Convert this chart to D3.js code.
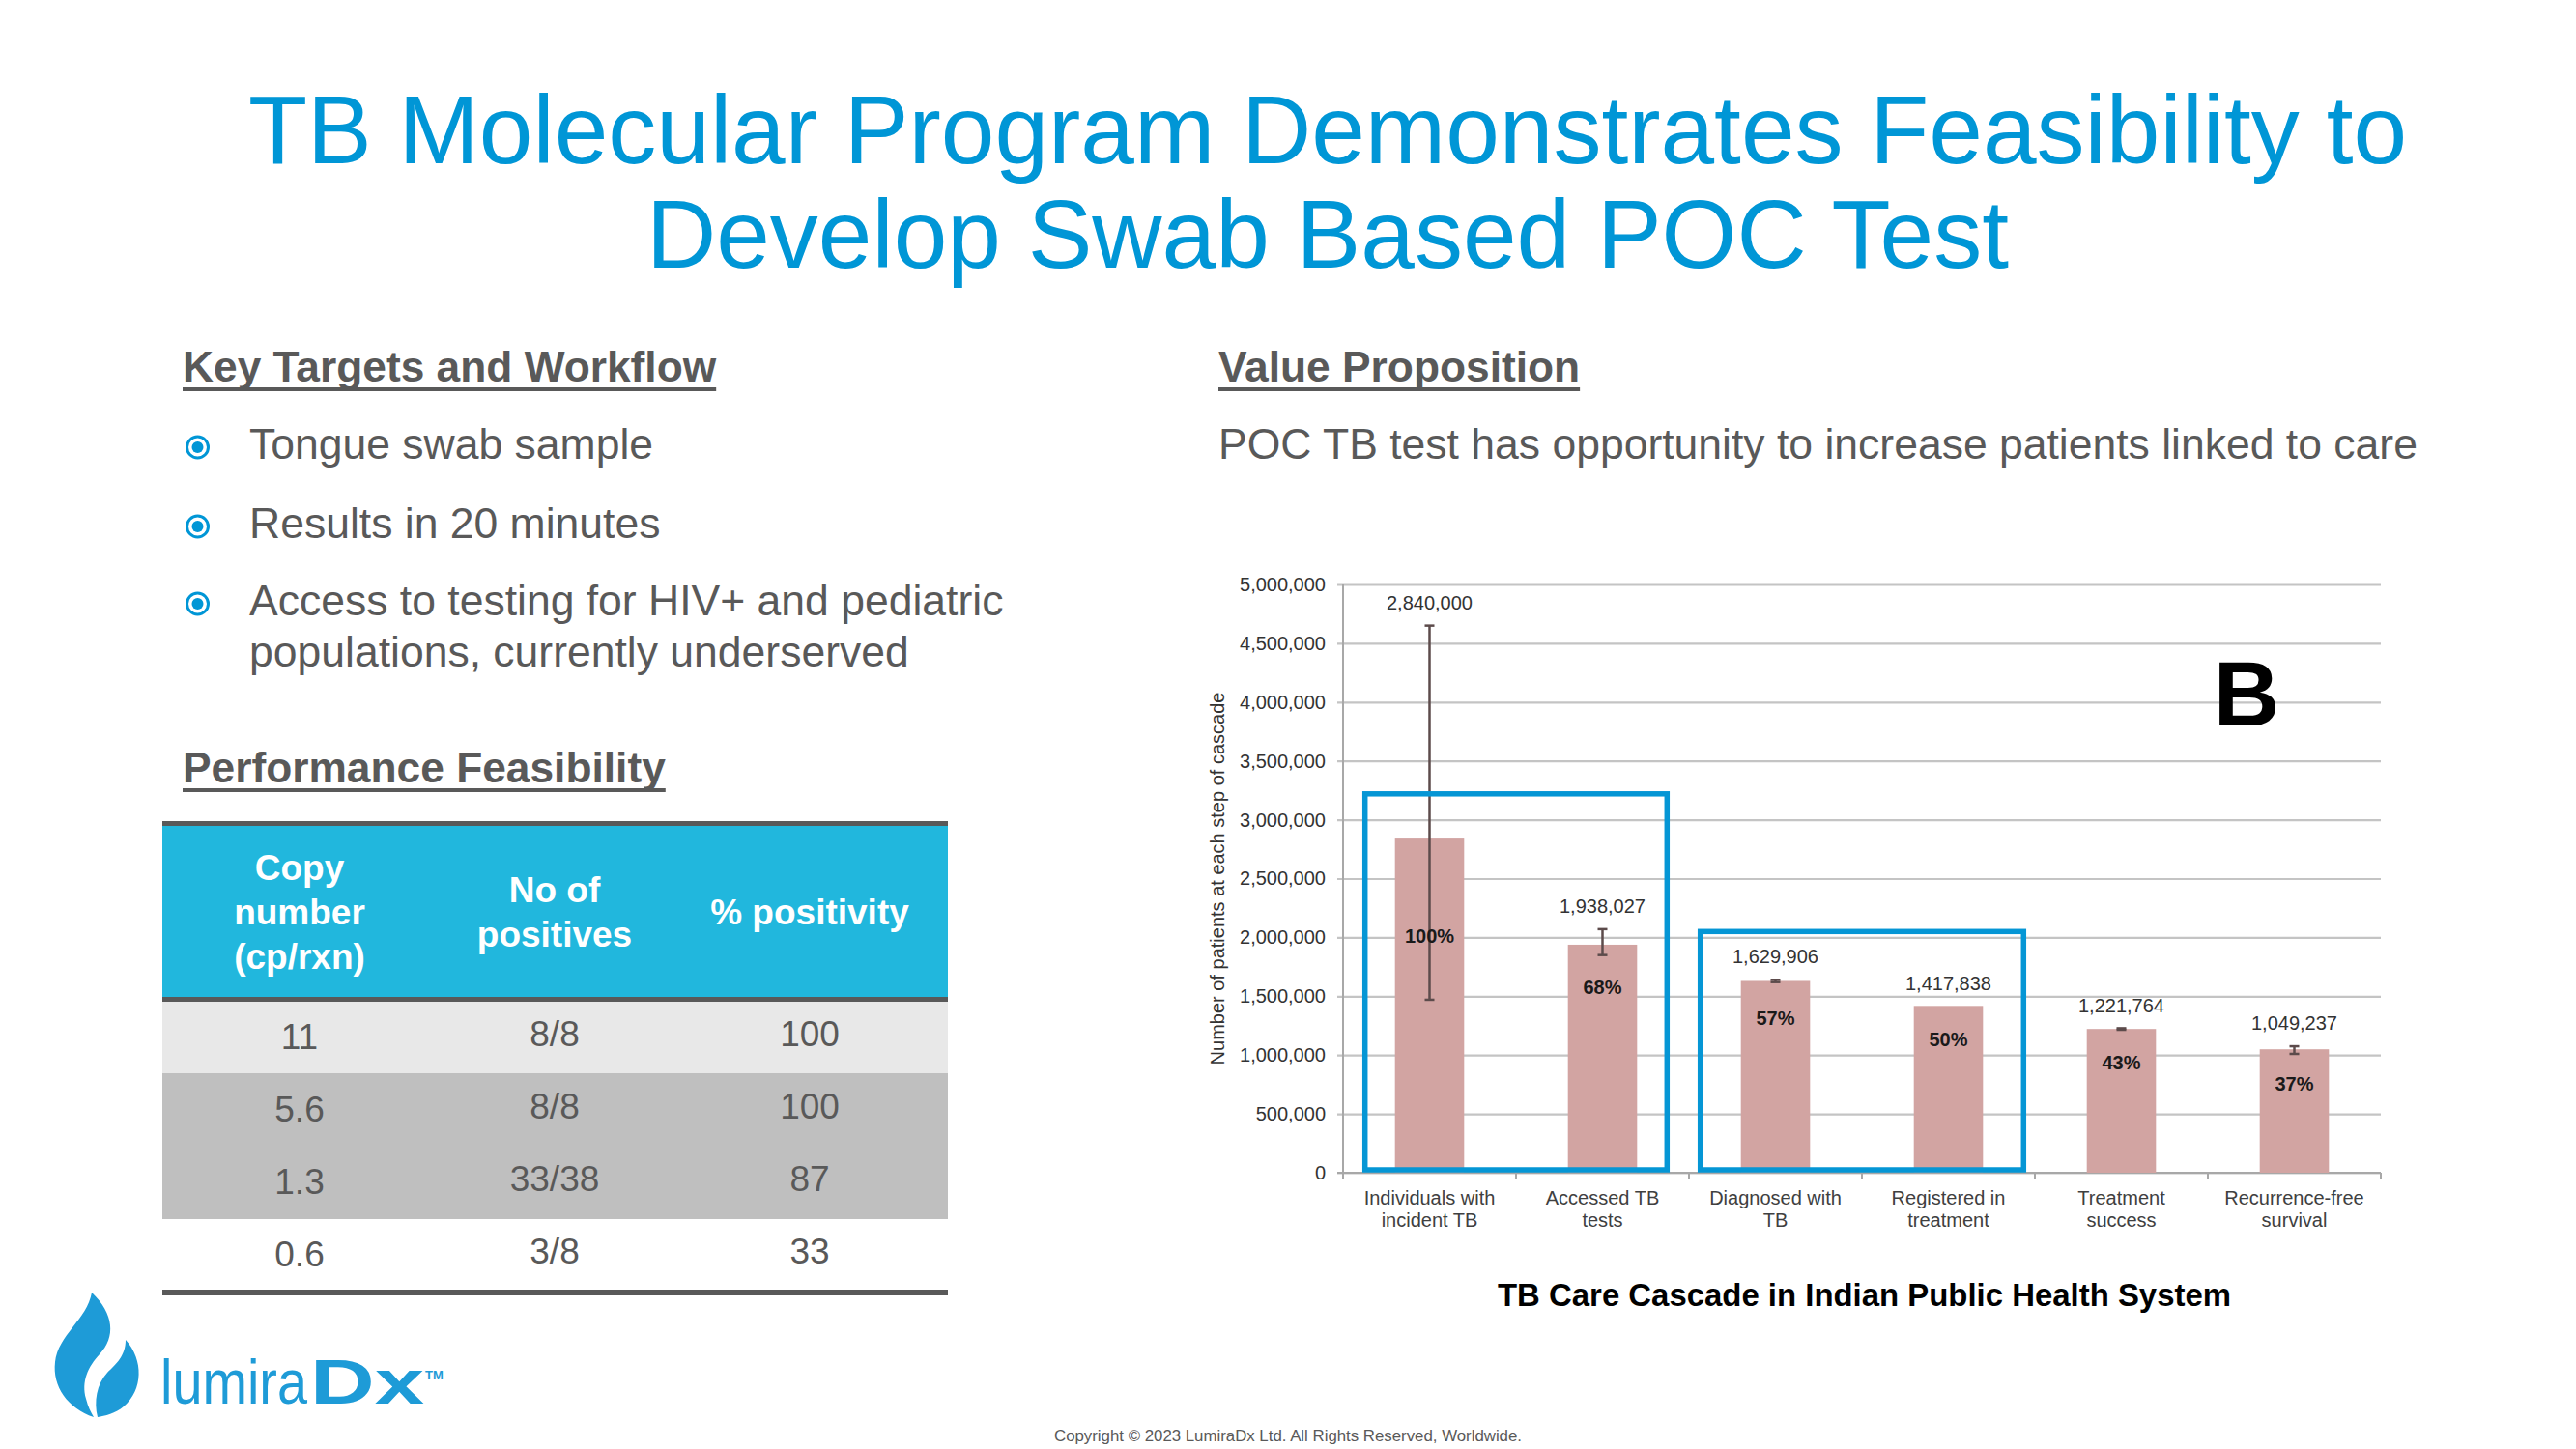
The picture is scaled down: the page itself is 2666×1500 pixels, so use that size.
<!DOCTYPE html>
<html>
<head>
<meta charset="utf-8">
<script src="https://cdn.jsdelivr.net/npm/d3@7"></script>
<style>
  html, body { margin: 0; padding: 0; background: #ffffff; }
  svg { display: block; }
  text { font-family: "Liberation Sans", Arial, sans-serif; }
</style>
</head>
<body>
<div id="slide"></div>
<script>
// ---------------- DATA ----------------
const titleLines = ["TB Molecular Program Demonstrates Feasibility to", "Develop Swab Based POC Test"];
const leftHeader = "Key Targets and Workflow";
const bullets = [["Tongue swab sample"], ["Results in 20 minutes"], ["Access to testing for HIV+ and pediatric", "populations, currently underserved"]];
const perfHeader = "Performance Feasibility";
const tableHeaders = [["Copy", "number", "(cp/rxn)"], ["No of", "positives"], ["% positivity"]];
const copyNumber = ["11", "5.6", "1.3", "0.6"];
const positives = ["8/8", "8/8", "33/38", "3/8"];
const positivity = ["100", "100", "87", "33"];
const rightHeader = "Value Proposition";
const rightText = "POC TB test has opportunity to increase patients linked to care";

const categories = [["Individuals with", "incident TB"], ["Accessed TB", "tests"], ["Diagnosed with", "TB"], ["Registered in", "treatment"], ["Treatment", "success"], ["Recurrence-free", "survival"]];
const patients = [2840000, 1938027, 1629906, 1417838, 1221764, 1049237];
const percentLabels = ["100%", "68%", "57%", "50%", "43%", "37%"];
const errLow = [1470000, 1850000, 1620000, null, 1215000, 1010000];
const errHigh = [4650000, 2070000, 1640000, null, 1228000, 1075000];
const pctLabelAt = [2010000, 1576000, 1314000, 1133000, 936000, 755000];
const yTicks = [0, 500000, 1000000, 1500000, 2000000, 2500000, 3000000, 3500000, 4000000, 4500000, 5000000];
const yTitle = "Number of patients at each step of cascade";
const highlightBoxes = [{ from: 0, to: 1, top: 3220000 }, { from: 2, to: 3, top: 2050000 }];
const panelLetter = "B";
const chartCaption = "TB Care Cascade in Indian Public Health System";
const copyright = "Copyright \u00A9 2023 LumiraDx Ltd. All Rights Reserved, Worldwide.";

// ---------------- STYLE ----------------
const W = 2666, H = 1500;
const blue = "#0096D6";
const grayText = "#595959";
const boxPads = [31, 42];

const svg = d3.select("#slide").append("svg").attr("width", W).attr("height", H);
svg.append("rect").attr("width", W).attr("height", H).attr("fill", "#fff");

// Title
svg.append("g").selectAll("text").data(titleLines).join("text")
  .attr("x", 1374).attr("y", (d, i) => 169 + i * 108)
  .attr("text-anchor", "middle").attr("font-size", 100).attr("fill", blue).text(d => d);

// Section header helper
function header(x, y, txt) {
  const t = svg.append("text").attr("x", x).attr("y", y).attr("font-size", 44.3)
    .attr("font-weight", "bold").attr("fill", grayText).text(txt);
  const w = t.node().getComputedTextLength();
  svg.append("rect").attr("x", x).attr("y", y + 6).attr("width", w).attr("height", 4).attr("fill", grayText);
}
header(189, 395, leftHeader);
header(189, 810, perfHeader);
header(1261, 395, rightHeader);

// Bullets
const bulletY = [475, 557, 637];
bullets.forEach((lines, i) => {
  const by = bulletY[i];
  const g = svg.append("g");
  g.append("circle").attr("cx", 204.5).attr("cy", by - 12).attr("r", 11).attr("fill", "none").attr("stroke", blue).attr("stroke-width", 3);
  g.append("circle").attr("cx", 204.5).attr("cy", by - 12).attr("r", 6).attr("fill", blue);
  lines.forEach((l, j) => {
    g.append("text").attr("x", 258).attr("y", by + j * 53).attr("font-size", 44.5).attr("fill", grayText).text(l);
  });
});

svg.append("text").attr("x", 1261).attr("y", 475).attr("font-size", 44.5).attr("fill", grayText).text(rightText);

// ---------------- TABLE ----------------
const tX0 = 168, tX1 = 981;
const colX = d3.scalePoint().domain([0, 1, 2]).range([310, 838]);
const tbl = svg.append("g");
tbl.append("rect").attr("x", tX0).attr("y", 855).attr("width", tX1 - tX0).attr("height", 178).attr("fill", "#21B7DD");
const rowTops = [1037, 1111, 1186, 1262];
const rowH = [74, 75, 76, 73];
const rowFill = ["#E8E8E8", "#BFBFBF", "#BFBFBF", "#FFFFFF"];
rowTops.forEach((t, i) => tbl.append("rect").attr("x", tX0).attr("y", t).attr("width", tX1 - tX0).attr("height", rowH[i]).attr("fill", rowFill[i]));
tbl.append("rect").attr("x", tX0).attr("y", 850).attr("width", tX1 - tX0).attr("height", 5).attr("fill", grayText);
tbl.append("rect").attr("x", tX0).attr("y", 1032).attr("width", tX1 - tX0).attr("height", 5).attr("fill", grayText);
tbl.append("rect").attr("x", tX0).attr("y", 1335).attr("width", tX1 - tX0).attr("height", 6).attr("fill", grayText);
tableHeaders.forEach((lines, c) => {
  const n = lines.length;
  lines.forEach((l, j) => {
    tbl.append("text").attr("x", colX(c)).attr("y", 944 + (j - (n - 1) / 2) * 46)
      .attr("dy", "0.36em").attr("text-anchor", "middle").attr("font-size", 37)
      .attr("font-weight", "bold").attr("fill", "#fff").text(l);
  });
});
[copyNumber, positives, positivity].forEach((col, c) => {
  col.forEach((v, r) => {
    tbl.append("text").attr("x", colX(c)).attr("y", rowTops[r] + rowH[r] / 2 + (c === 0 ? -1 : -4))
      .attr("dy", "0.36em").attr("text-anchor", "middle").attr("font-size", 37).attr("fill", grayText).text(v);
  });
});

// ---------------- CHART ----------------
const plotL = 1390, plotR = 2464, plotT = 605, plotB = 1214;
const x = d3.scaleBand().domain(d3.range(categories.length)).range([plotL, plotR]).padding(0);
const y = d3.scaleLinear().domain([0, 5000000]).range([plotB, plotT]);
const bw = x.bandwidth() * 0.4;
const chart = svg.append("g");

// gridlines + y labels via axis
const yAxis = d3.axisLeft(y).tickValues(yTicks).tickSizeInner(-(plotR - plotL)).tickSizeOuter(0)
  .tickPadding(18).tickFormat(d3.format(","));
const gy = chart.append("g").attr("transform", `translate(${plotL},0)`).call(yAxis);
gy.select(".domain").remove();
gy.selectAll(".tick line").attr("x1", -6).attr("stroke", "#C4C4C4").attr("stroke-width", 2.2);
gy.selectAll(".tick text").attr("font-size", 20).attr("fill", "#333")
  .attr("font-family", "'Liberation Sans', Arial, sans-serif");
// y axis line
chart.append("line").attr("x1", plotL).attr("x2", plotL).attr("y1", plotT).attr("y2", plotB).attr("stroke", "#A8A8A8").attr("stroke-width", 2);
// x axis line & ticks
chart.append("line").attr("x1", plotL - 6).attr("x2", plotR).attr("y1", plotB).attr("y2", plotB).attr("stroke", "#A8A8A8").attr("stroke-width", 2.2);
const bounds = d3.range(categories.length + 1).map(i => i < categories.length ? x(i) : plotR);
chart.selectAll(".xt").data(bounds).join("line")
  .attr("x1", d => d).attr("x2", d => d).attr("y1", plotB).attr("y2", plotB + 6).attr("stroke", "#A8A8A8").attr("stroke-width", 2);

// y title
chart.append("text").attr("transform", `translate(1267,${(plotT + plotB) / 2}) rotate(-90)`)
  .attr("text-anchor", "middle").attr("font-size", 20).attr("fill", "#333").text(yTitle);

// bars
chart.selectAll(".bar").data(patients).join("rect")
  .attr("x", (d, i) => x(i) + (x.bandwidth() - bw) / 2).attr("width", bw)
  .attr("y", d => y(d)).attr("height", d => plotB - y(d)).attr("fill", "#D2A4A2");

// error bars
const eg = chart.append("g").attr("stroke", "#5C4B4B").attr("stroke-width", 2.5);
patients.forEach((v, i) => {
  if (errLow[i] == null) return;
  const cx = x(i) + x.bandwidth() / 2;
  eg.append("line").attr("x1", cx).attr("x2", cx).attr("y1", y(errLow[i])).attr("y2", y(errHigh[i]));
  eg.append("line").attr("x1", cx - 5).attr("x2", cx + 5).attr("y1", y(errLow[i])).attr("y2", y(errLow[i]));
  eg.append("line").attr("x1", cx - 5).attr("x2", cx + 5).attr("y1", y(errHigh[i])).attr("y2", y(errHigh[i]));
});

// value labels
chart.selectAll(".vl").data(patients).join("text")
  .attr("x", (d, i) => x(i) + x.bandwidth() / 2)
  .attr("y", (d, i) => y(Math.max(d, errHigh[i] || 0)) - 24)
  .attr("dy", "0.36em").attr("text-anchor", "middle").attr("font-size", 20).attr("fill", "#333")
  .text(d => d3.format(",")(d));
// percent labels
chart.selectAll(".pl").data(percentLabels).join("text")
  .attr("x", (d, i) => x(i) + x.bandwidth() / 2).attr("y", (d, i) => y(pctLabelAt[i]))
  .attr("dy", "0.36em").attr("text-anchor", "middle").attr("font-size", 20).attr("font-weight", "bold").attr("fill", "#1a1a1a")
  .text(d => d);
// category labels
categories.forEach((lines, i) => {
  lines.forEach((l, j) => {
    chart.append("text").attr("x", x(i) + x.bandwidth() / 2).attr("y", 1240 + j * 23)
      .attr("dy", "0.36em").attr("text-anchor", "middle").attr("font-size", 20).attr("fill", "#404040").text(l);
  });
});

// highlight boxes
highlightBoxes.forEach((b, k) => {
  const left = x(b.from) + (x.bandwidth() - bw) / 2 - boxPads[k];
  const right = x(b.to) + (x.bandwidth() + bw) / 2 + boxPads[k];
  chart.append("rect").attr("x", left).attr("y", y(b.top)).attr("width", right - left)
    .attr("height", y(0) - 3 - y(b.top)).attr("fill", "none").attr("stroke", "#0596D5").attr("stroke-width", 5.5);
});

// panel letter
chart.append("text").attr("x", 2325).attr("y", 751).attr("text-anchor", "middle")
  .attr("font-size", 95).attr("font-weight", "bold").attr("fill", "#000").text(panelLetter);

// caption
svg.append("text").attr("x", 1550).attr("y", 1352).attr("font-family", "Lato, 'Open Sans', sans-serif")
  .attr("font-size", 33).attr("font-weight", "bold").attr("fill", "#000")
  .attr("textLength", 759).attr("lengthAdjust", "spacingAndGlyphs").text(chartCaption);

// copyright
svg.append("text").attr("x", 1091).attr("y", 1492).attr("font-size", 16).attr("fill", grayText)
  .attr("textLength", 484).attr("lengthAdjust", "spacingAndGlyphs").text(copyright);

// ---------------- LOGO ----------------
const logo = svg.append("g").attr("transform", "translate(40,1320)");
logo.append("path").attr("fill", "#1E9BD7")
  .attr("d", "M55,18 C78,40 80,64 63,82 C51,95 44,110 49,128 C51,136 54,142 57,147 C30,138 14,115 17,90 C20,62 50,46 55,18 Z");
logo.append("path").attr("fill", "#1E9BD7")
  .attr("d", "M90,67 C109,88 108,119 88,136 C80,143 68,146 61,147 C57,131 60,113 71,101 C80,92 90,84 90,67 Z");
logo.append("text").attr("x", 126).attr("y", 133).attr("font-family", "Lato, 'Open Sans', sans-serif")
  .attr("font-size", 64).attr("font-weight", 400).attr("fill", "#1E9BD7")
  .attr("textLength", 152).attr("lengthAdjust", "spacingAndGlyphs").text("lumira");
logo.append("text").attr("x", 281).attr("y", 133).attr("font-family", "Lato, 'Open Sans', sans-serif")
  .attr("font-size", 64).attr("font-weight", 900).attr("fill", "#1E9BD7")
  .attr("textLength", 118).attr("lengthAdjust", "spacingAndGlyphs").text("Dx");
logo.append("text").attr("x", 400).attr("y", 108).attr("font-size", 13).attr("font-weight", "bold").attr("fill", "#1E9BD7").text("TM");
</script>
</body>
</html>
